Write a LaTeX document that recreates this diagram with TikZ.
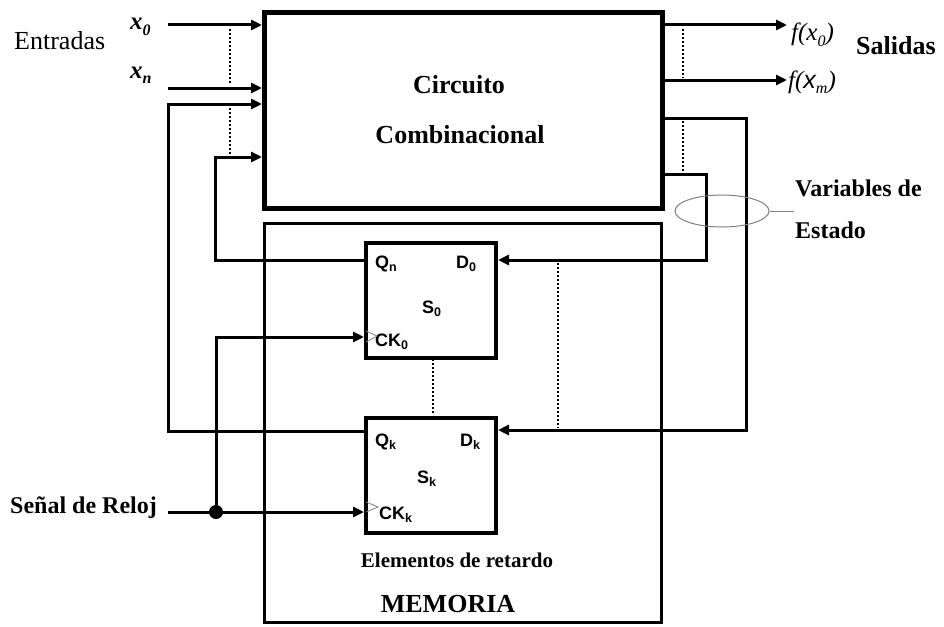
\documentclass[tikz,border=0pt]{standalone}
\usepackage{fontspec}
\setmainfont{Liberation Serif}
\setsansfont{Liberation Sans}
\usetikzlibrary{arrows.meta,shapes.geometric}
\newcommand\ffsub[1]{\raisebox{-0.35ex}{\fontsize{12.5}{12.5}\selectfont #1}}
\newcommand\xsub[1]{\raisebox{-0.45ex}{\fontsize{16}{16}\selectfont #1}}
\begin{document}
\begin{tikzpicture}[x=1pt,y=-1pt,
  wire/.style={line width=3pt},
  arr/.style={wire,-{Triangle[length=11pt,width=10pt]}},
  dots/.style={line width=2pt,dash pattern=on 2pt off 2pt},
  boxstyle/.style={draw,inner sep=0pt,anchor=north west},
  lbl/.style={inner sep=0pt,anchor=base west},
  clbl/.style={inner sep=0pt,anchor=base},
  bigb/.style={font=\fontsize{26}{28}\selectfont\bfseries},
  ffl/.style={lbl,font=\fontsize{18}{18}\selectfont\sffamily\bfseries},
  clkmark/.style={gray,line width=0.8pt}]
\useasboundingbox (0,0) rectangle (944,626);
\fill[white] (0,0) rectangle (944,626);

% boxes
\node[boxstyle,line width=5pt,minimum width=398pt,minimum height=196pt] (comb) at (262,10) {};
\node[boxstyle,line width=3pt,minimum width=397pt,minimum height=399pt] (mem) at (263,222) {};
\node[boxstyle,line width=4pt,minimum width=130pt,minimum height=115pt] (ff0) at (364,241) {};
\node[boxstyle,line width=4pt,minimum width=130pt,minimum height=115pt] (ffk) at (364,416) {};

% texts
\node[clbl,bigb] (t1) at (459,93) {Circuito};
\node[clbl,bigb] (t2) at (460,143) {Combinacional};
\node[lbl,font=\fontsize{26}{28}\selectfont] (ent) at (14,50) {Entradas};
\node[lbl,font=\fontsize{25}{28}\selectfont\bfseries\itshape] (x0) at (130,30) {x\xsub{0}};
\node[lbl,font=\fontsize{25}{28}\selectfont\bfseries\itshape] (xn) at (130,78) {x\xsub{n}};
\node[lbl,font=\fontsize{25}{28}\selectfont\itshape] (f0) at (791,41) {f(x\xsub{0})};
\node[lbl,font=\fontsize{25}{28}\selectfont\itshape] (fm) at (788,88) {f(\textsf{x}\xsub{m})};
\node[lbl,bigb] (sal) at (856,55) {Salidas};
\node[lbl,font=\fontsize{24}{26}\selectfont\bfseries] (var) at (795,196) {Variables de};
\node[lbl,font=\fontsize{24}{26}\selectfont\bfseries] (est) at (795,238) {Estado};
\node[lbl,font=\fontsize{24}{26}\selectfont\bfseries] (rel) at (10,513) {Señal de Reloj};
\node[clbl,font=\fontsize{21}{24}\selectfont\bfseries] (elem) at (457,567) {Elementos de retardo};
\node[clbl,bigb] (memt) at (448,612) {MEMORIA};

% flip-flop labels
\node[ffl] (qn) at (375,268) {Q\ffsub{n}};
\node[ffl] (d0) at (456,268) {D\ffsub{0}};
\node[ffl] (s0) at (422,313) {S\ffsub{0}};
\node[ffl] (ck0) at (375,346) {CK\ffsub{0}};
\node[ffl] (qk) at (375,446) {Q\ffsub{k}};
\node[ffl] (dk) at (460,446) {D\ffsub{k}};
\node[ffl] (sk) at (417,483) {S\ffsub{k}};
\node[ffl] (ckk) at (379,519) {CK\ffsub{k}};
\draw[clkmark] (366,331) -- (377,336) -- (366,342);
\draw[clkmark] (366,502) -- (378,507) -- (366,512);

% inputs
\coordinate (x0s) at (168,25);
\coordinate (xns) at (168,88);
\draw[arr] (x0s) -- (x0s -| comb.west);
\draw[arr] (xns) -- (xns -| comb.west);

% Qk feedback
\coordinate (qkc) at (168,431);
\coordinate (qkt) at (168,104);
\draw[arr] (qkc -| ffk.west) -- (qkc) -- (qkt) -- (qkt -| comb.west);
% Qn feedback
\coordinate (qnc) at (215,260);
\coordinate (qnt) at (215,157);
\draw[arr] (qnc -| ff0.west) -- (qnc) -- (qnt) -- (qnt -| comb.west);

% clock
\node[circle,fill=black,minimum size=14pt,inner sep=0pt] (dot) at (216,512) {};
\coordinate (clk) at (168,512);
\coordinate (ckc) at (215,337);
\draw[arr] (clk) -- (clk -| ffk.west);
\draw[arr] (dot.center) -- (dot.center |- ckc) -- (ckc -| ff0.west);

% outputs
\coordinate (o1) at (787,25);
\coordinate (o2) at (787,80);
\draw[arr] (o1 -| comb.east) -- (o1);
\draw[arr] (o2 -| comb.east) -- (o2);

% state loops
\coordinate (lo1) at (746,118);
\coordinate (lo2) at (746,430);
\draw[arr] (lo1 -| comb.east) -- (lo1) -- (lo2) -- (lo2 -| ffk.east);
\coordinate (li1) at (706,174);
\coordinate (li2) at (706,260);
\draw[arr] (li1 -| comb.east) -- (li1) -- (li2) -- (li2 -| ff0.east);

% dotted
\draw[dots] (230,29) -- (230,84);
\draw[dots] (230,108) -- (230,154);
\draw[dots] (683,29) -- (683,78);
\draw[dots] (683,121) -- (683,171);
\draw[dots] (558,263) -- (558,428);
\draw[dots] (433,359) -- (433,413);

% state variables ellipse
\node[ellipse,draw=gray,line width=1pt,minimum width=94pt,minimum height=32pt,inner sep=0pt] (ell) at (722,211) {};
\coordinate (ellend) at (794,211);
\draw[gray,line width=1pt] (ell.east) -- (ellend);
\end{tikzpicture}
\end{document}
